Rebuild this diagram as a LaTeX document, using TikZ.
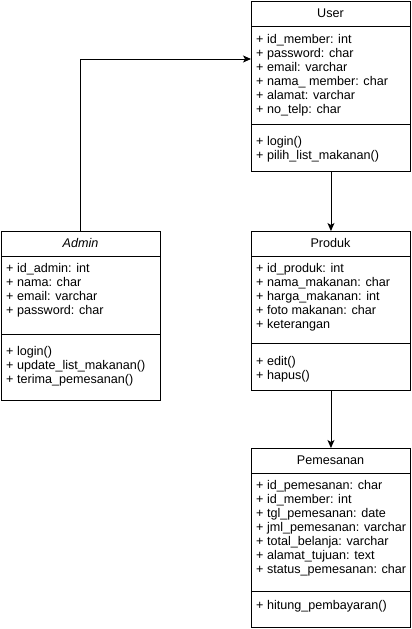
\documentclass[tikz,border=0pt]{standalone}
\usepackage{fontspec}
\setmainfont{Liberation Sans}
\usetikzlibrary{arrows.meta}
\begin{document}
\begin{tikzpicture}[x=1pt,y=-1pt,
  box/.style={draw=black,line width=0.9pt,fill=white,inner sep=0pt,anchor=north west},
  sep/.style={line width=0.9pt},
  txt/.style={anchor=west,inner sep=0pt,font=\fontsize{12.6}{14}\selectfont,text height=9.8,text depth=2.6},
  ttl/.style={inner sep=0pt,font=\fontsize{12.6}{14}\selectfont,text height=9.8,text depth=2.6},
  conn/.style={line width=0.9pt,-{Stealth[length=8pt,width=7pt,inset=2pt]}}]
\useasboundingbox (0,0) rectangle (412,629);

% ---------- User ----------
\node[box,minimum width=159pt,minimum height=170pt] (user) at (251,1) {};
\draw[sep] (251,26) -- (410,26);
\draw[sep] (251,124) -- (410,124);
\node[ttl] (usert) at (330.5,13.5) {User};
\foreach \t [count=\i] in {{+ id\_member: int},{+ password: char},{+ email: varchar},{+ nama\_ member: char},{+ alamat: varchar},{+ no\_telp: char}}
  \node[txt] (ua\i) at (256,{40+14*(\i-1)}) {\t};
\foreach \t [count=\i] in {{+ login()},{+ pilih\_list\_makanan()}}
  \node[txt] (um\i) at (256,{142+14*(\i-1)}) {\t};

% ---------- Admin ----------
\node[box,minimum width=159pt,minimum height=169pt] (admin) at (1,231) {};
\draw[sep] (1,256) -- (160,256);
\draw[sep] (1,334) -- (160,334);
\node[ttl,font=\fontsize{12.6}{14}\selectfont\itshape] (admint) at (80.5,243.5) {Admin};
\foreach \t [count=\i] in {{+ id\_admin: int},{+ nama: char},{+ email: varchar},{+ password: char}}
  \node[txt] (aa\i) at (6,{269+14*(\i-1)}) {\t};
\foreach \t [count=\i] in {{+ login()},{+ update\_list\_makanan()},{+ terima\_pemesanan()}}
  \node[txt] (am\i) at (6,{352+14*(\i-1)}) {\t};

% ---------- Produk ----------
\node[box,minimum width=159pt,minimum height=159pt] (produk) at (251,231) {};
\draw[sep] (251,256) -- (410,256);
\draw[sep] (251,343) -- (410,343);
\node[ttl] (produkt) at (330.5,243.5) {Produk};
\foreach \t [count=\i] in {{+ id\_produk: int},{+ nama\_makanan: char},{+ harga\_makanan: int},{+ foto makanan: char},{+ keterangan}}
  \node[txt] (pa\i) at (256,{269+14*(\i-1)}) {\t};
\foreach \t [count=\i] in {{+ edit()},{+ hapus()}}
  \node[txt] (pm\i) at (256,{362+14*(\i-1)}) {\t};

% ---------- Pemesanan ----------
\node[box,minimum width=159pt,minimum height=179pt] (pesan) at (251,448) {};
\draw[sep] (251,473) -- (410,473);
\draw[sep] (251,591) -- (410,591);
\node[ttl] (pesant) at (330.5,460.5) {Pemesanan};
\foreach \t [count=\i] in {{+ id\_pemesanan: char},{+ id\_member: int},{+ tgl\_pemesanan: date},{+ jml\_pemesanan: varchar},{+ total\_belanja: varchar},{+ alamat\_tujuan: text},{+ status\_pemesanan: char}}
  \node[txt] (sa\i) at (256,{486+14*(\i-1)}) {\t};
\node[txt] (sm1) at (256,606) {+ hitung\_pembayaran()};

% ---------- Connectors ----------
\coordinate (bend) at (80,59);
\draw[conn] (admin.north -| bend) -- (bend) -- (bend -| user.west);
\draw[conn] (user.south) -- (produk.north);
\draw[conn] (produk.south) -- (pesan.north);
\end{tikzpicture}
\end{document}
